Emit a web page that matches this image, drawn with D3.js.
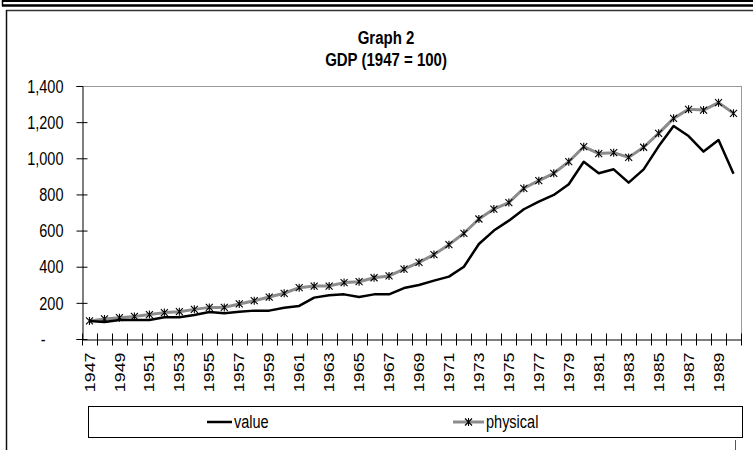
<!DOCTYPE html>
<html><head><meta charset="utf-8">
<script src="https://cdn.jsdelivr.net/npm/d3@7"></script>
<style>
html,body{margin:0;padding:0;background:#fff;}
svg{display:block;font-family:"Liberation Sans",Arial,sans-serif;}
</style></head>
<body>
<svg id="chart" width="753" height="450"></svg>
<script>
const years = ["1947","1948","1949","1950","1951","1952","1953","1954","1955","1956","1957","1958","1959","1960","1961","1962","1963","1964","1965","1966","1967","1968","1969","1970","1971","1972","1973","1974","1975","1976","1977","1978","1979","1980","1981","1982","1983","1984","1985","1986","1987","1988","1989","1990"];
const valueSeries = [100,94,105,105,105,120,120,133,149,142,151,157,157,173,183,229,242,247,232,247,247,282,299,323,345,400,526,600,655,718,760,797,856,981,917,939,865,939,1066,1179,1123,1037,1101,915];
const physicalSeries = [100,111,118,125,135,146,151,164,175,175,194,212,232,253,284,293,293,312,317,339,349,387,424,467,522,585,664,719,755,834,876,917,981,1064,1026,1031,1005,1061,1138,1221,1271,1267,1308,1249];
const yTicks = [0,200,400,600,800,1000,1200,1400];
const xLabels = ["1947","1949","1951","1953","1955","1957","1959","1961","1963","1965","1967","1969","1971","1973","1975","1977","1979","1981","1983","1985","1987","1989"];
const seriesNames = ["value","physical"];

const svg = d3.select("#chart");
const L = 82, R = 741, T = 86, B = 339;
const FS = 14.5, SY = 1.23;

// outer frames
svg.append("line").attr("x1",2).attr("x2",753).attr("y1",1).attr("y2",1).attr("stroke","#000").attr("stroke-width",2);
svg.append("line").attr("x1",2.5).attr("x2",2.5).attr("y1",0).attr("y2",6).attr("stroke","#000").attr("stroke-width",1.5);
svg.append("line").attr("x1",2).attr("x2",753).attr("y1",5.5).attr("y2",5.5).attr("stroke","#000").attr("stroke-width",2.5);
svg.append("line").attr("x1",6).attr("x2",753).attr("y1",10.5).attr("y2",10.5).attr("stroke","#333").attr("stroke-width",1.5);
svg.append("line").attr("x1",6.5).attr("x2",6.5).attr("y1",10).attr("y2",450).attr("stroke","#111").attr("stroke-width",1.5);
svg.append("line").attr("x1",735.5).attr("x2",735.5).attr("y1",440).attr("y2",450).attr("stroke","#555").attr("stroke-width",1);

function stretchedText(px, py, str, opts){
  const t = svg.append("text")
    .attr("transform",`translate(${px},${py}) scale(1,${SY})`)
    .attr("font-size",opts.size||FS)
    .attr("text-anchor",opts.anchor||"start")
    .text(str);
  if(opts.bold) t.attr("font-weight","bold");
  return t;
}

// titles
stretchedText(386, 44, "Graph 2", {size:15, bold:true, anchor:"middle"});
stretchedText(386, 66, "GDP (1947 = 100)", {size:15, bold:true, anchor:"middle"});

const x = d3.scaleBand().domain(years).range([L,R]).padding(0);
const y = d3.scaleLinear().domain([0,1400]).range([B,T]);
const cx = d => x(d) + x.bandwidth()/2;

// plot border (top, right) gray
svg.append("line").attr("x1",L).attr("x2",R).attr("y1",y(1400)+0.5).attr("y2",y(1400)+0.5).attr("stroke","#999").attr("stroke-width",1);
svg.append("line").attr("x1",R+0.5).attr("x2",R+0.5).attr("y1",T).attr("y2",B).attr("stroke","#999").attr("stroke-width",1);

// y axis
const yAxis = d3.axisLeft(y).tickValues(yTicks)
  .tickFormat(d => d === 0 ? "-" : d3.format(",")(d))
  .tickSize(6).tickPadding(13);
const gy = svg.append("g").attr("transform",`translate(${L+0.5},0)`).call(yAxis);
gy.select(".domain").attr("stroke","#000");
gy.selectAll(".tick line").attr("x1",5).attr("stroke","#000");
gy.selectAll(".tick text")
  .attr("x",0).attr("dy","0.35em")
  .attr("transform",d => `translate(${d===0?-37:-19},0) scale(1,${SY})`)
  .attr("font-size",FS).attr("fill","#000").attr("font-family","Liberation Sans, Arial, sans-serif");
gy.selectAll(".tick").filter(d=>d===1400).select("line").attr("x1",0);

// x axis
const xAxis = d3.axisBottom(x).tickValues(xLabels).tickSize(0);
const gx = svg.append("g").attr("transform",`translate(0,${B+0.5})`).call(xAxis);
gx.select(".domain").attr("stroke","#000");
gx.selectAll(".tick text")
  .attr("transform",`rotate(-90) scale(${SY},1)`)
  .attr("x",-13/SY).attr("y",0).attr("dy","0.35em")
  .attr("text-anchor","end")
  .attr("font-size",FS).attr("fill","#000").attr("font-family","Liberation Sans, Arial, sans-serif");
// category boundary ticks
const bounds = years.map(d => x(d)).concat([x.range()[1]]);
gx.selectAll(".btick").data(bounds).enter().append("line")
  .attr("class","btick")
  .attr("x1",d=>Math.round(d)+0.5).attr("x2",d=>Math.round(d)+0.5)
  .attr("y1",-6).attr("y2",6).attr("stroke","#000").attr("stroke-width",1);

// lines
const lineGen = d3.line().x((d,i)=>cx(years[i])).y(d=>y(d));
svg.append("path").datum(physicalSeries).attr("d",lineGen)
  .attr("fill","none").attr("stroke","#8c8c8c").attr("stroke-width",3).attr("stroke-linejoin","round");
svg.append("path").datum(valueSeries).attr("d",lineGen)
  .attr("fill","none").attr("stroke","#000").attr("stroke-width",2.5).attr("stroke-linejoin","round");

function star(g, px, py, s){
  const h = s/2;
  g.append("path")
    .attr("d",`M${px-h},${py-h}L${px+h},${py+h}M${px-h},${py+h}L${px+h},${py-h}M${px},${py-h-0.5}L${px},${py+h+0.5}`)
    .attr("stroke","#000").attr("stroke-width",1.1).attr("fill","none");
}
const mg = svg.append("g");
physicalSeries.forEach((v,i)=> star(mg, cx(years[i]), y(v), 7));

// legend
svg.append("rect").attr("x",88.5).attr("y",406.5).attr("width",654).attr("height",31)
  .attr("fill","#fff").attr("stroke","#000").attr("stroke-width",1);
svg.append("line").attr("x1",207).attr("x2",232).attr("y1",422).attr("y2",422).attr("stroke","#000").attr("stroke-width",2.5);
stretchedText(234, 427.5, seriesNames[0], {});
svg.append("line").attr("x1",453).attr("x2",484).attr("y1",422).attr("y2",422).attr("stroke","#8c8c8c").attr("stroke-width",3);
star(svg, 468.5, 422, 7);
stretchedText(486, 427.5, seriesNames[1], {});
</script>
</body></html>
